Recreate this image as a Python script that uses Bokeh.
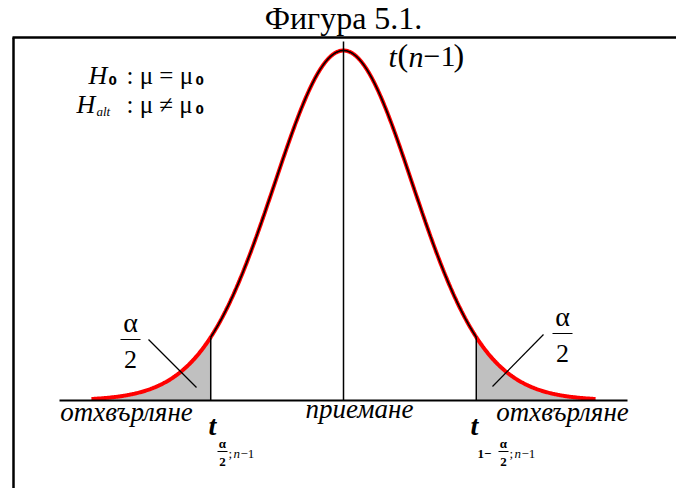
import math
import numpy as np
from bokeh.plotting import figure
from bokeh.models import Range1d
from bokeh.core.properties import value
from bokeh.embed import file_html
from bokeh.resources import INLINE

# ---- chart content ----
title_text = "Фигура 5.1."
region_labels = ["отхвърляне", "приемане", "отхвърляне"]
dof = 30                     # degrees of freedom of the drawn t curve
t_crit = [-1.87, 1.87]       # lower / upper critical values
tail_limits = [-3.55, 3.55]  # where the red tails fade into the axis
axis_limits = [-4.0, 4.0]    # extent of the horizontal axis
hypotheses = [("H", "0", ": μ = μ", "0"), ("H", "alt", ": μ ≠ μ", "0")]

# ---- geometry (pixels of the 676x488 canvas) ----
W, H = 676, 488
CX, BASE = 343.0, 400.0   # centre of the curve and the axis line
UNIT = 71.0               # pixels per t unit
PEAK_PX = 350.0           # height of the peak above the axis


def t_pdf(t, k):
    c = math.gamma((k + 1) / 2) / (math.sqrt(k * math.pi) * math.gamma(k / 2))
    return c * (1 + np.asarray(t) ** 2 / k) ** (-(k + 1) / 2)


YS = PEAK_PX / float(t_pdf(0.0, dof))


def X(px):
    return (px - CX) / UNIT


def Y(py):
    return (BASE - py) / YS


p = figure(width=W, height=H, output_backend="svg", toolbar_location=None,
           x_range=Range1d(X(0), X(W)), y_range=Range1d(Y(H), Y(0)),
           min_border=0)
p.axis.visible = False
p.grid.visible = False
p.outline_line_color = None
p.background_fill_color = "white"

SERIF = value("'Liberation Serif'")
SUBF = value("'DejaVu Sans'")

# frame (top and left edges)
p.line([X(12), X(W)], [Y(37), Y(37)], line_color="black", line_width=2.5)
p.line([X(13), X(13)], [Y(37), Y(H)], line_color="black", line_width=2.5)

# shaded rejection tails
for a, b in [(tail_limits[0], t_crit[0]), (t_crit[1], tail_limits[1])]:
    xs = np.linspace(a, b, 120)
    p.varea(x=xs, y1=np.zeros_like(xs), y2=t_pdf(xs, dof), fill_color="#c0c0c0")

# density curve: red underneath, black over the acceptance region
xs = np.linspace(tail_limits[0], tail_limits[1], 600)
p.line(xs, t_pdf(xs, dof), line_color="red", line_width=4)
xc = np.linspace(t_crit[0], t_crit[1], 400)
p.line(xc, t_pdf(xc, dof), line_color="black", line_width=1.6)

# horizontal axis line
p.line(axis_limits, [0, 0], line_color="black", line_width=2)

# critical value verticals and the centre line
for c in t_crit:
    p.line([c, c], [0, float(t_pdf(c, dof))], line_color="black", line_width=1.5)
p.line([0, 0], [0, Y(41)], line_color="black", line_width=1.5)

# leaders from the α/2 labels into the tails
p.segment(x0=[X(148), X(543)], y0=[Y(339), Y(334)],
          x1=[X(196), X(492)], y1=[Y(387), Y(386)],
          line_color="black", line_width=1.2)


def txt(px, py, s, size, style="normal", align="center", font=SERIF):
    p.text(x=[X(px)], y=[Y(py)], text=[s], text_font=font,
           text_font_size=f"{size}px", text_font_style=style,
           text_align=align, text_baseline="middle", text_color="black")


# title
txt(343, 17, title_text, 32)

# hypotheses
rows_y = [75, 104]
for (h, sub, rest, sub2), ry, hx in zip(hypotheses, rows_y, [88, 76]):
    txt(hx, ry, h, 26, "italic", "left")
    if sub == "0":
        txt(hx + 20, ry + 5, sub, 12, "bold", "left", SUBF)
    else:
        txt(hx + 20, ry + 7, sub, 13, "italic", "left")
    txt(126, ry, rest, 25, "normal", "left")
    txt(195, ry + 5, sub2, 12, "bold", "left", SUBF)

# curve name t(n−1): italic letters, upright brackets and digits
LY = 56
txt(388, LY, "t", 30, "italic", "left")
txt(397, LY - 2, "(", 32, "normal", "left")
txt(408, LY, "n", 30, "italic", "left")
txt(423, LY, "−1", 30, "normal", "left")
txt(453, LY - 2, ")", 32, "normal", "left")

# α/2 tail labels
for ax, ay in [(130, 322), (562, 316)]:
    txt(ax, ay, "α", 28)
    p.line([X(ax - 10), X(ax + 10)], [Y(ay + 17), Y(ay + 17)],
           line_color="black", line_width=1)
    txt(ax, ay + 37, "2", 26)

# region labels under the axis
for lx, ly, s in [(126, 411, region_labels[0]), (359, 408, region_labels[1]),
                  (562, 411, region_labels[2])]:
    txt(lx, ly, s, 27, "italic")

# critical value labels
txt(208, 425, "t", 28, "bold italic", "left")
txt(222, 443, "α", 13, "bold")
p.line([X(217), X(227)], [Y(451), Y(451)], line_color="black", line_width=1)
txt(222, 461, "2", 13, "bold")
txt(228, 453, ";", 13, "normal", "left")
txt(233, 453, "n", 13, "italic", "left")
txt(240, 453, "−1", 13, "normal", "left")

txt(470, 425, "t", 28, "bold italic", "left")
txt(477, 453, "1−", 13, "bold", "left")
txt(503, 443, "α", 13, "bold")
p.line([X(498), X(508)], [Y(451), Y(451)], line_color="black", line_width=1)
txt(503, 461, "2", 13, "bold")
txt(509, 453, ";", 13, "normal", "left")
txt(514, 453, "n", 13, "italic", "left")
txt(521, 453, "−1", 13, "normal", "left")

open("out.html", "w").write(file_html(p, INLINE))
